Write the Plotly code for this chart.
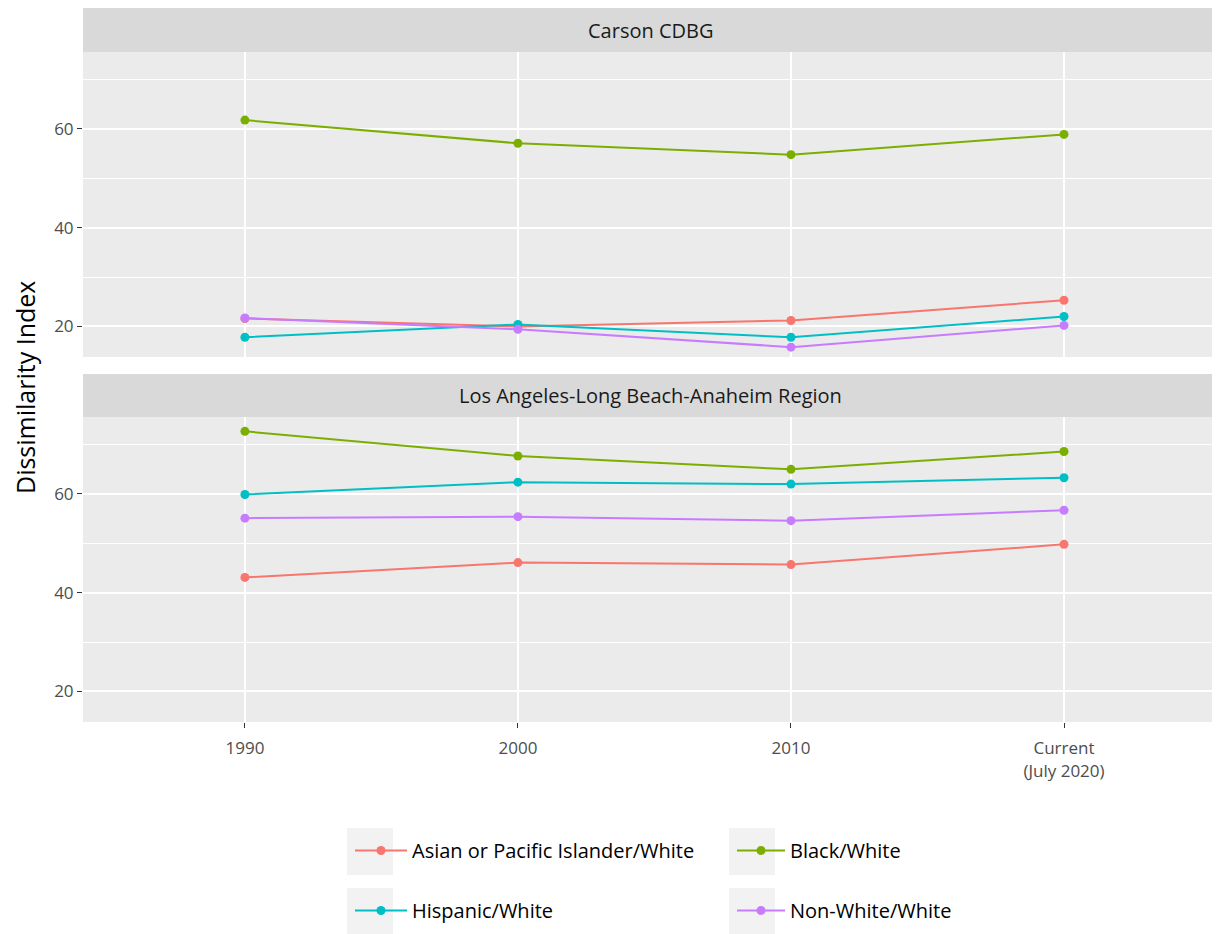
import plotly.graph_objects as go
from plotly.subplots import make_subplots

categories = ["1990", "2000", "2010", "Current<br>(July 2020)"]
series_names = ["Asian or Pacific Islander/White", "Black/White", "Hispanic/White", "Non-White/White"]
colors = ["#F8766D", "#7CAE00", "#00BFC4", "#C77CFF"]

carson_asian = [21.6, 20.0, 21.2, 25.3]
carson_black = [61.8, 57.1, 54.8, 58.9]
carson_hispanic = [17.8, 20.4, 17.8, 22.0]
carson_nonwhite = [21.7, 19.4, 15.8, 20.2]

la_asian = [43.1, 46.1, 45.7, 49.8]
la_black = [72.7, 67.7, 65.0, 68.6]
la_hispanic = [59.9, 62.4, 62.0, 63.3]
la_nonwhite = [55.1, 55.4, 54.6, 56.7]

panels = [
    ("Carson CDBG", [carson_asian, carson_black, carson_hispanic, carson_nonwhite]),
    ("Los Angeles-Long Beach-Anaheim Region", [la_asian, la_black, la_hispanic, la_nonwhite]),
]

FONT = "Open Sans"
W, H = 1220, 934
OFF = 8  # page body margin
ML, MR, MT, MB = 75, 10, 0, 220
plot_w = W - ML - MR
plot_h = H - MT - MB

def py(page_y):
    fy = page_y - OFF
    return (H - MB - fy) / plot_h

def pxx(page_x):
    fx = page_x - OFF
    return (fx - ML) / plot_w

p1 = (py(357), py(52))
s1 = (py(52), 1.0)
p2 = (0.0, py(417))
s2 = (py(417), py(374))

fig = make_subplots(rows=2, cols=1, shared_xaxes=True, vertical_spacing=0.02)
fig.update_layout(yaxis=dict(domain=list(p1)), yaxis2=dict(domain=list(p2)))

legend_of = {0: "legend", 2: "legend", 1: "legend2", 3: "legend2"}
for r, (title, data) in enumerate(panels, start=1):
    for i, (name, vals) in enumerate(zip(series_names, data)):
        fig.add_trace(go.Scatter(
            x=categories, y=vals, mode="lines+markers", name=name,
            line=dict(color=colors[i], width=2),
            marker=dict(color=colors[i], size=9),
            showlegend=(r == 1), legendgroup=name, legend=legend_of[i],
        ), row=r, col=1)

shapes = []
annotations = []
for (title, _), (y0, y1) in zip(panels, [s1, s2]):
    shapes.append(dict(type="rect", xref="paper", yref="paper", x0=0, x1=1, y0=y0, y1=y1,
                       fillcolor="#D9D9D9", line=dict(width=0), layer="below"))
    annotations.append(dict(text=title, xref="paper", yref="paper", x=0.5, y=(y0 + y1) / 2,
                            showarrow=False, font=dict(family=FONT, size=20, color="#1A1A1A"),
                            xanchor="center", yanchor="middle"))

annotations.append(dict(text="Dissimilarity Index", xref="paper", yref="paper",
                        x=pxx(25), y=py(388), textangle=-90, showarrow=False,
                        font=dict(family=FONT, size=25, color="#000000"),
                        xanchor="center", yanchor="middle"))

# legend key backgrounds
for kx in [347, 729]:
    for ky in [(828, 875), (888, 934)]:
        shapes.append(dict(type="rect", xref="paper", yref="paper",
                           x0=pxx(kx), x1=pxx(kx + 46), y0=py(ky[1]), y1=py(ky[0]),
                           fillcolor="#F2F2F2", line=dict(width=0), layer="below"))

axis_common = dict(showline=False, ticks="outside", ticklen=5, tickcolor="#333333",
                   tickwidth=1, tickfont=dict(family=FONT, size=17, color="#4D4D4D"),
                   gridcolor="#FFFFFF", gridwidth=2, zeroline=False)

for ax in ["yaxis", "yaxis2"]:
    fig.update_layout(**{ax: dict(range=[13.8, 75.6], tickvals=[20, 40, 60],
                                  minor=dict(tickvals=[30, 50, 70], showgrid=True,
                                             gridcolor="#FFFFFF", gridwidth=1, ticks=""),
                                  **axis_common)})
fig.update_layout(xaxis=dict(range=[-0.593, 3.564], showticklabels=False, ticks="",
                             gridcolor="#FFFFFF", gridwidth=2, zeroline=False),
                  xaxis2=dict(range=[-0.593, 3.564], ticklabelstandoff=6, **axis_common))

fig.update_layout(
    width=W, height=H,
    margin=dict(l=ML, r=MR, t=MT, b=MB),
    paper_bgcolor="#FFFFFF", plot_bgcolor="#EBEBEB",
    font=dict(family=FONT, color="#000000"),
    shapes=shapes, annotations=annotations,
    legend=dict(x=pxx(350), y=py(831), xanchor="left", yanchor="top",
                xref="paper", yref="paper", orientation="v",
                font=dict(family=FONT, size=20, color="#000000"),
                tracegroupgap=31, bgcolor="rgba(0,0,0,0)", itemwidth=52),
    legend2=dict(x=pxx(732), y=py(831), xanchor="left", yanchor="top",
                 xref="paper", yref="paper", orientation="v",
                 font=dict(family=FONT, size=20, color="#000000"),
                 tracegroupgap=31, bgcolor="rgba(0,0,0,0)", itemwidth=48),
)

fig.write_html("out.html")
